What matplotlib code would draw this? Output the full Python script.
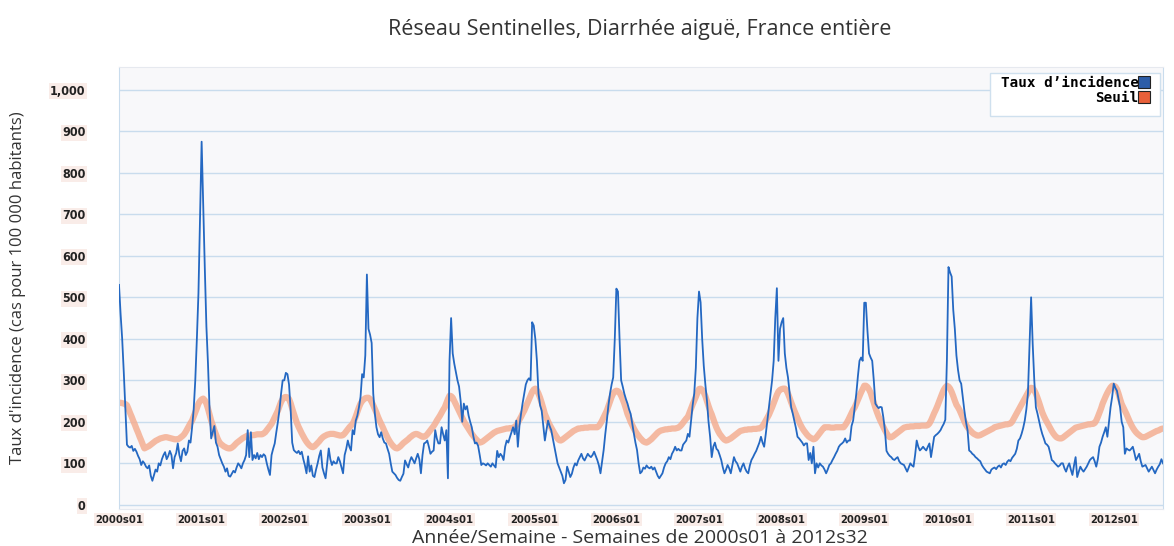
"""Réseau Sentinelles - diarrhée aiguë, France entière (2000s01..2012s32)."""

import numpy as np
import matplotlib

matplotlib.use("Agg")
import matplotlib.pyplot as plt  # noqa: E402
from matplotlib.patches import Rectangle  # noqa: E402

# weekly incidence per 100 000, one list per year (ISO weeks; 2004 and 2009 have 53)
years = [2000, 2001, 2002, 2003, 2004, 2005, 2006, 2007, 2008, 2009, 2010, 2011, 2012]

inc_2000 = [530, 460, 400, 320, 230, 145, 140, 138, 142, 130,
            135, 128, 118, 110, 96, 105, 100, 92, 88, 95,
            70, 58, 72, 85, 80, 100, 95, 110, 120, 127,
            110, 118, 130, 120, 88, 115, 125, 148, 120, 105,
            130, 136, 120, 128, 155, 150, 187, 230, 300, 400,
            510, 690]
inc_2001 = [875, 720, 570, 430, 340, 230, 160, 175, 190, 150,
            140, 120, 110, 100, 92, 80, 88, 70, 68, 75,
            82, 78, 90, 100, 95, 88, 100, 108, 120, 180,
            115, 175, 108, 120, 112, 125, 110, 120, 115, 122,
            118, 100, 85, 72, 120, 135, 148, 175, 200, 230,
            268, 300]
inc_2002 = [300, 318, 315, 290, 230, 150, 132, 128, 125, 130,
            122, 128, 110, 95, 76, 117, 80, 95, 70, 67,
            85, 100, 118, 131, 90, 76, 64, 100, 136, 110,
            96, 105, 100, 100, 115, 105, 90, 76, 120, 135,
            155, 140, 131, 180, 170, 203, 215, 235, 260, 315,
            307, 360]
inc_2003 = [555, 424, 410, 390, 268, 220, 187, 170, 163, 175,
            160, 150, 148, 135, 123, 100, 80, 76, 72, 65,
            60, 58, 67, 75, 107, 98, 90, 105, 115, 108,
            100, 112, 123, 110, 76, 120, 148, 150, 155, 140,
            123, 128, 131, 180, 160, 148, 148, 187, 170, 155,
            180, 64]
inc_2004 = [347, 450, 365, 340, 320, 300, 285, 250, 200, 244,
            230, 238, 215, 200, 187, 165, 148, 150, 142, 120,
            96, 100, 98, 95, 100, 96, 92, 100, 95, 90,
            130, 115, 123, 118, 108, 140, 155, 150, 163, 175,
            187, 170, 203, 140, 190, 219, 245, 268, 290, 300,
            305, 300, 440]
inc_2005 = [432, 400, 347, 268, 240, 227, 190, 155, 180, 203,
            190, 180, 160, 140, 120, 100, 90, 80, 70, 52,
            60, 92, 80, 67, 75, 90, 100, 95, 107, 115,
            123, 112, 107, 115, 123, 118, 115, 120, 128, 118,
            108, 95, 76, 105, 132, 170, 203, 240, 268, 290,
            307, 400]
inc_2006 = [521, 514, 400, 300, 285, 268, 255, 244, 230, 219,
            195, 172, 150, 132, 100, 76, 80, 90, 87, 95,
            90, 88, 92, 85, 90, 80, 70, 64, 70, 76,
            90, 100, 105, 115, 110, 123, 130, 140, 131, 135,
            131, 131, 145, 150, 155, 171, 164, 203, 240, 268,
            330, 450]
inc_2007 = [514, 488, 400, 335, 290, 251, 200, 164, 115, 140,
            150, 135, 131, 120, 108, 90, 76, 85, 96, 88,
            76, 95, 115, 105, 100, 90, 80, 92, 100, 88,
            80, 76, 95, 108, 115, 123, 130, 140, 150, 164,
            150, 140, 170, 203, 235, 268, 300, 347, 450, 522,
            347, 424]
inc_2008 = [440, 450, 365, 330, 307, 270, 235, 220, 203, 185,
            164, 160, 155, 150, 143, 148, 148, 108, 125, 100,
            140, 76, 100, 90, 100, 95, 92, 85, 76, 85,
            96, 100, 108, 115, 123, 130, 140, 145, 148, 152,
            160, 150, 155, 155, 190, 203, 235, 268, 310, 347,
            355, 347]
inc_2009 = [487, 487, 420, 365, 355, 347, 300, 244, 238, 233,
            236, 235, 211, 180, 130, 123, 118, 115, 110, 108,
            112, 115, 105, 100, 98, 96, 88, 80, 90, 100,
            95, 92, 120, 155, 140, 131, 135, 140, 135, 131,
            140, 148, 115, 140, 164, 168, 171, 175, 180, 188,
            195, 205, 347]
inc_2010 = [573, 560, 550, 470, 424, 360, 325, 300, 292, 260,
            227, 200, 180, 131, 128, 123, 120, 115, 112, 108,
            105, 96, 90, 85, 80, 78, 76, 85, 88, 90,
            86, 92, 95, 90, 98, 100, 96, 104, 108, 105,
            113, 118, 123, 135, 155, 160, 171, 185, 203, 230,
            268, 387]
inc_2011 = [500, 387, 300, 235, 220, 203, 185, 171, 160, 148,
            145, 140, 125, 108, 105, 100, 96, 92, 95, 100,
            100, 88, 80, 92, 100, 85, 72, 95, 115, 67,
            80, 92, 85, 80, 86, 92, 100, 108, 112, 115,
            105, 92, 110, 140, 150, 164, 175, 187, 164, 200,
            235, 260]
inc_2012 = [292, 282, 275, 255, 235, 200, 187, 123, 136, 133,
            131, 135, 140, 125, 108, 115, 123, 105, 92, 94,
            96, 88, 80, 86, 92, 84, 76, 85, 92, 98,
            110, 100]

# epidemic threshold ("Seuil"), same weeks
thr_2000 = [246, 246, 245, 244, 243, 240, 231, 221, 212, 202,
            193, 183, 174, 164, 155, 145, 136, 138, 140, 142,
            145, 148, 151, 154, 156, 158, 160, 161, 162, 163,
            163, 162, 161, 160, 159, 158, 158, 158, 160, 163,
            166, 170, 176, 183, 190, 197, 203, 213, 223, 233,
            244, 250]
thr_2001 = [254, 256, 252, 244, 232, 218, 203, 192, 180, 170,
            160, 152, 147, 144, 141, 139, 137, 136, 136, 138,
            141, 145, 149, 152, 155, 158, 161, 163, 165, 167,
            167, 167, 168, 168, 169, 170, 170, 170, 170, 172,
            175, 180, 185, 190, 195, 203, 211, 219, 227, 238,
            248, 255]
thr_2002 = [259, 260, 259, 255, 245, 232, 220, 208, 197, 188,
            180, 172, 165, 158, 152, 147, 143, 140, 139, 141,
            145, 149, 153, 158, 162, 165, 167, 169, 170, 171,
            171, 171, 170, 169, 168, 167, 167, 168, 172, 177,
            182, 187, 191, 195, 203, 213, 224, 235, 244, 250,
            254, 257]
thr_2003 = [258, 258, 255, 248, 240, 231, 222, 212, 203, 195,
            187, 178, 170, 162, 155, 149, 144, 140, 137, 136,
            138, 141, 145, 149, 152, 155, 158, 162, 165, 168,
            170, 171, 170, 168, 166, 164, 164, 166, 170, 175,
            180, 185, 190, 196, 203, 209, 215, 222, 229, 235,
            245, 255]
thr_2004 = [263, 262, 258, 250, 242, 234, 226, 218, 210, 202,
            195, 189, 183, 177, 171, 166, 161, 157, 153, 150,
            151, 153, 156, 159, 162, 165, 168, 171, 174, 176,
            178, 179, 180, 181, 182, 183, 184, 184, 185, 185,
            186, 187, 192, 198, 205, 212, 220, 227, 236, 245,
            254, 263, 272]
thr_2005 = [278, 280, 276, 268, 258, 246, 233, 219, 210, 201,
            193, 186, 179, 172, 166, 160, 156, 155, 157, 160,
            163, 166, 169, 172, 175, 178, 180, 182, 184, 184,
            185, 185, 186, 186, 186, 187, 187, 187, 187, 187,
            187, 190, 196, 203, 211, 219, 227, 238, 249, 260,
            268, 273]
thr_2006 = [275, 274, 270, 263, 254, 244, 232, 219, 210, 200,
            192, 184, 177, 171, 166, 161, 157, 153, 151, 150,
            152, 155, 158, 162, 166, 170, 174, 177, 179, 180,
            181, 182, 182, 183, 183, 184, 184, 184, 185, 186,
            189, 193, 198, 203, 208, 212, 222, 232, 242, 251,
            260, 270]
thr_2007 = [279, 280, 277, 271, 262, 250, 238, 227, 218, 207,
            196, 186, 178, 171, 166, 161, 157, 155, 156, 158,
            160, 163, 166, 169, 172, 175, 178, 179, 180, 181,
            181, 182, 182, 182, 183, 183, 183, 184, 184, 186,
            190, 196, 203, 210, 217, 226, 235, 245, 255, 265,
            273, 277]
thr_2008 = [279, 280, 280, 276, 268, 258, 247, 237, 227, 218,
            209, 200, 192, 185, 179, 174, 169, 165, 162, 160,
            158, 159, 163, 168, 173, 178, 183, 187, 187, 187,
            187, 186, 186, 186, 187, 187, 187, 187, 187, 187,
            192, 198, 205, 213, 221, 229, 235, 244, 253, 262,
            271, 279]
thr_2009 = [287, 287, 284, 278, 270, 258, 246, 234, 223, 213,
            204, 196, 188, 180, 173, 167, 163, 163, 165, 168,
            171, 174, 177, 180, 183, 186, 187, 188, 188, 189,
            189, 189, 190, 190, 190, 190, 191, 191, 191, 191,
            192, 196, 203, 212, 221, 229, 238, 248, 258, 268,
            277, 283, 287]
thr_2010 = [285, 280, 272, 262, 251, 241, 235, 228, 219, 210,
            201, 193, 187, 182, 178, 174, 171, 169, 167, 167,
            168, 170, 172, 174, 176, 178, 180, 182, 184, 187,
            188, 189, 190, 191, 192, 193, 194, 194, 195, 196,
            200, 207, 214, 221, 228, 235, 242, 249, 256, 263,
            270, 277]
thr_2011 = [282, 281, 276, 268, 258, 247, 235, 223, 214, 206,
            199, 192, 185, 178, 172, 167, 163, 161, 160, 160,
            162, 165, 168, 171, 174, 177, 180, 183, 186, 187,
            188, 189, 190, 191, 192, 193, 194, 194, 195, 195,
            197, 203, 212, 222, 232, 244, 253, 262, 270, 277,
            283, 287]
thr_2012 = [287, 285, 279, 268, 255, 243, 235, 227, 219, 210,
            201, 193, 186, 180, 175, 171, 168, 165, 163, 163,
            164, 166, 168, 170, 172, 174, 176, 178, 179, 181,
            183, 184]

incidence = [inc_2000, inc_2001, inc_2002, inc_2003, inc_2004, inc_2005, inc_2006,
             inc_2007, inc_2008, inc_2009, inc_2010, inc_2011, inc_2012]
threshold = [thr_2000, thr_2001, thr_2002, thr_2003, thr_2004, thr_2005, thr_2006,
             thr_2007, thr_2008, thr_2009, thr_2010, thr_2011, thr_2012]
for y, a, b in zip(years, incidence, threshold):
    assert len(a) == len(b), (y, len(a), len(b))

inc = np.concatenate(incidence)
thr = np.concatenate(threshold)
weeks = np.arange(len(inc))
year_starts = np.cumsum([0] + [len(a) for a in incidence[:-1]])
tick_labels = [f"{y}s01" for y in years]

W, H = 1174, 546
fig = plt.figure(figsize=(W / 100, H / 100), dpi=100)
fig.patch.set_facecolor("white")
ax = fig.add_axes([119 / W, 1 - 509 / H, (1163 - 119) / W, (509 - 67) / H])
ax.set_facecolor("#f8f8fa")

grid_c = "#c9dced"
for v in range(0, 1001, 100):
    ax.axhline(v, color=grid_c, lw=1.0, zorder=1)

ax.plot(weeks, thr, color="#f4ae92", lw=4.5, alpha=0.85, solid_capstyle="round", zorder=2)
ax.plot(weeks, inc, color="#2468c2", lw=1.3, zorder=3)

ax.set_xlim(0, len(inc) - 1)
ax.set_ylim(-10, 1055)

for side in ("left", "right"):
    ax.spines[side].set_color(grid_c)
for side in ("top", "bottom"):
    ax.spines[side].set_color("#e6e9ef")

ax.set_yticks(range(0, 1001, 100))
ax.set_yticklabels([f"{v:,}" for v in range(0, 1001, 100)])
ax.set_xticks(year_starts)
ax.set_xticklabels(tick_labels)
ax.tick_params(axis="y", length=0, pad=24, labelsize=9, labelcolor="#222222")
ax.tick_params(axis="x", length=0, pad=4, labelsize=8, labelcolor="#222222")
for t in ax.get_yticklabels() + ax.get_xticklabels():
    t.set_fontweight("bold")
    t.set_fontstretch("condensed")
    t.set_bbox(dict(facecolor="#f9ece8", edgecolor="none", pad=1.0))

# legend box drawn by hand (it is taller than its two rows in the source chart)
px = lambda x: (x - 119) / (1163 - 119)  # noqa: E731
py = lambda y: (509 - y) / (509 - 67)  # noqa: E731
ax.add_patch(Rectangle((px(990), py(116)), px(1160) - px(990), py(73) - py(116),
                       transform=ax.transAxes, facecolor="white", edgecolor="#cfe0ee",
                       lw=1.0, zorder=4))

h_inc = plt.Line2D([], [], ls="", marker="s", markersize=8, markerfacecolor="#2d5da8",
                   markeredgecolor="#222222", markeredgewidth=0.8)
h_thr = plt.Line2D([], [], ls="", marker="s", markersize=8, markerfacecolor="#e8603a",
                   markeredgecolor="#222222", markeredgewidth=0.8)
leg = ax.legend([h_inc, h_thr], ["Taux d\u2019incidence", "Seuil"], loc="upper right",
                markerfirst=False, frameon=False, handlelength=0.6,
                handletextpad=0.05, labelspacing=0.1, borderpad=0, borderaxespad=0,
                bbox_to_anchor=(px(1148), py(76)),
                prop=dict(family="DejaVu Sans Mono", weight="bold", size=10.3))
leg.set_zorder(5)

fig.text(640 / W, 1 - 30 / H, "Réseau Sentinelles, Diarrhée aiguë, France entière",
         ha="center", va="center", fontsize=15.5, color="#333333", family="Open Sans")
fig.text(640 / W, 1 - 538 / H, "Année/Semaine - Semaines de 2000s01 à 2012s32",
         ha="center", va="center", fontsize=14, color="#333333", family="Open Sans")
fig.text(18 / W, 1 - 288 / H, "Taux d'incidence (cas pour 100 000 habitants)",
         ha="center", va="center", rotation=90, fontsize=12, color="#333333",
         family="Open Sans")

fig.savefig("out.png", dpi=100, facecolor="white")
